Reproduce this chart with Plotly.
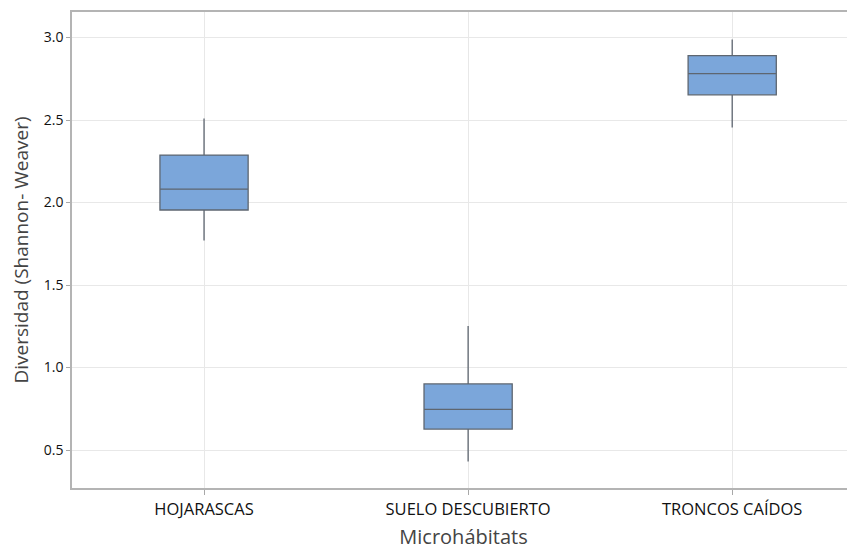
import plotly.graph_objects as go

categories = ["HOJARASCAS", "SUELO DESCUBIERTO", "TRONCOS CAÍDOS"]
positions = [0, 1, 2]
lower_whisker = [1.77, 0.43, 2.455]
q1 = [1.955, 0.627, 2.653]
median = [2.082, 0.746, 2.782]
q3 = [2.288, 0.901, 2.891]
upper_whisker = [2.51, 1.252, 2.988]

y_ticks = [0.5, 1.0, 1.5, 2.0, 2.5, 3.0]

fig = go.Figure()
fig.add_trace(go.Box(
    x=positions,
    q1=q1, median=median, q3=q3,
    lowerfence=lower_whisker, upperfence=upper_whisker,
    width=0.334,
    whiskerwidth=0,
    fillcolor="#7BA6DA",
    line=dict(color="#5E6670", width=1.3),
    boxpoints=False,
    showlegend=False,
))

# page body has an 8px default margin, so the figure is a bit smaller
fig.update_layout(
    width=847, height=542,
    margin=dict(l=64, r=0, t=4, b=62, autoexpand=False),
    paper_bgcolor="white", plot_bgcolor="white",
    font=dict(family="Open Sans, Noto Sans, sans-serif", color="#222222"),
)
fig.update_xaxes(
    range=[-0.5, 2.465],
    tickvals=positions, ticktext=categories,
    tickfont=dict(size=16.5, color="#111111"),
    ticks="outside", ticklen=5, tickcolor="#a8a8a8",
    showline=True, linecolor="#b4b4b4", linewidth=1.5, mirror=True,
    showgrid=True, gridcolor="#e8e8e8", gridwidth=1,
    zeroline=False, automargin=False,
    title=dict(text="Microhábitats", font=dict(size=20, color="#444444"), standoff=15),
)
fig.update_yaxes(
    range=[0.27, 3.155],
    tickvals=y_ticks, ticktext=["0.5", "1.0", "1.5", "2.0", "2.5", "3.0"],
    tickfont=dict(size=14, color="#111111"),
    ticks="outside", ticklen=4, tickcolor="#a8a8a8",
    showline=True, linecolor="#b4b4b4", linewidth=1.5,
    showgrid=True, gridcolor="#e8e8e8", gridwidth=1,
    zeroline=False, automargin=False,
    title=dict(text="Diversidad (Shannon- Weaver)", font=dict(size=19, color="#444444"), standoff=13),
)

fig.write_html("out.html")
